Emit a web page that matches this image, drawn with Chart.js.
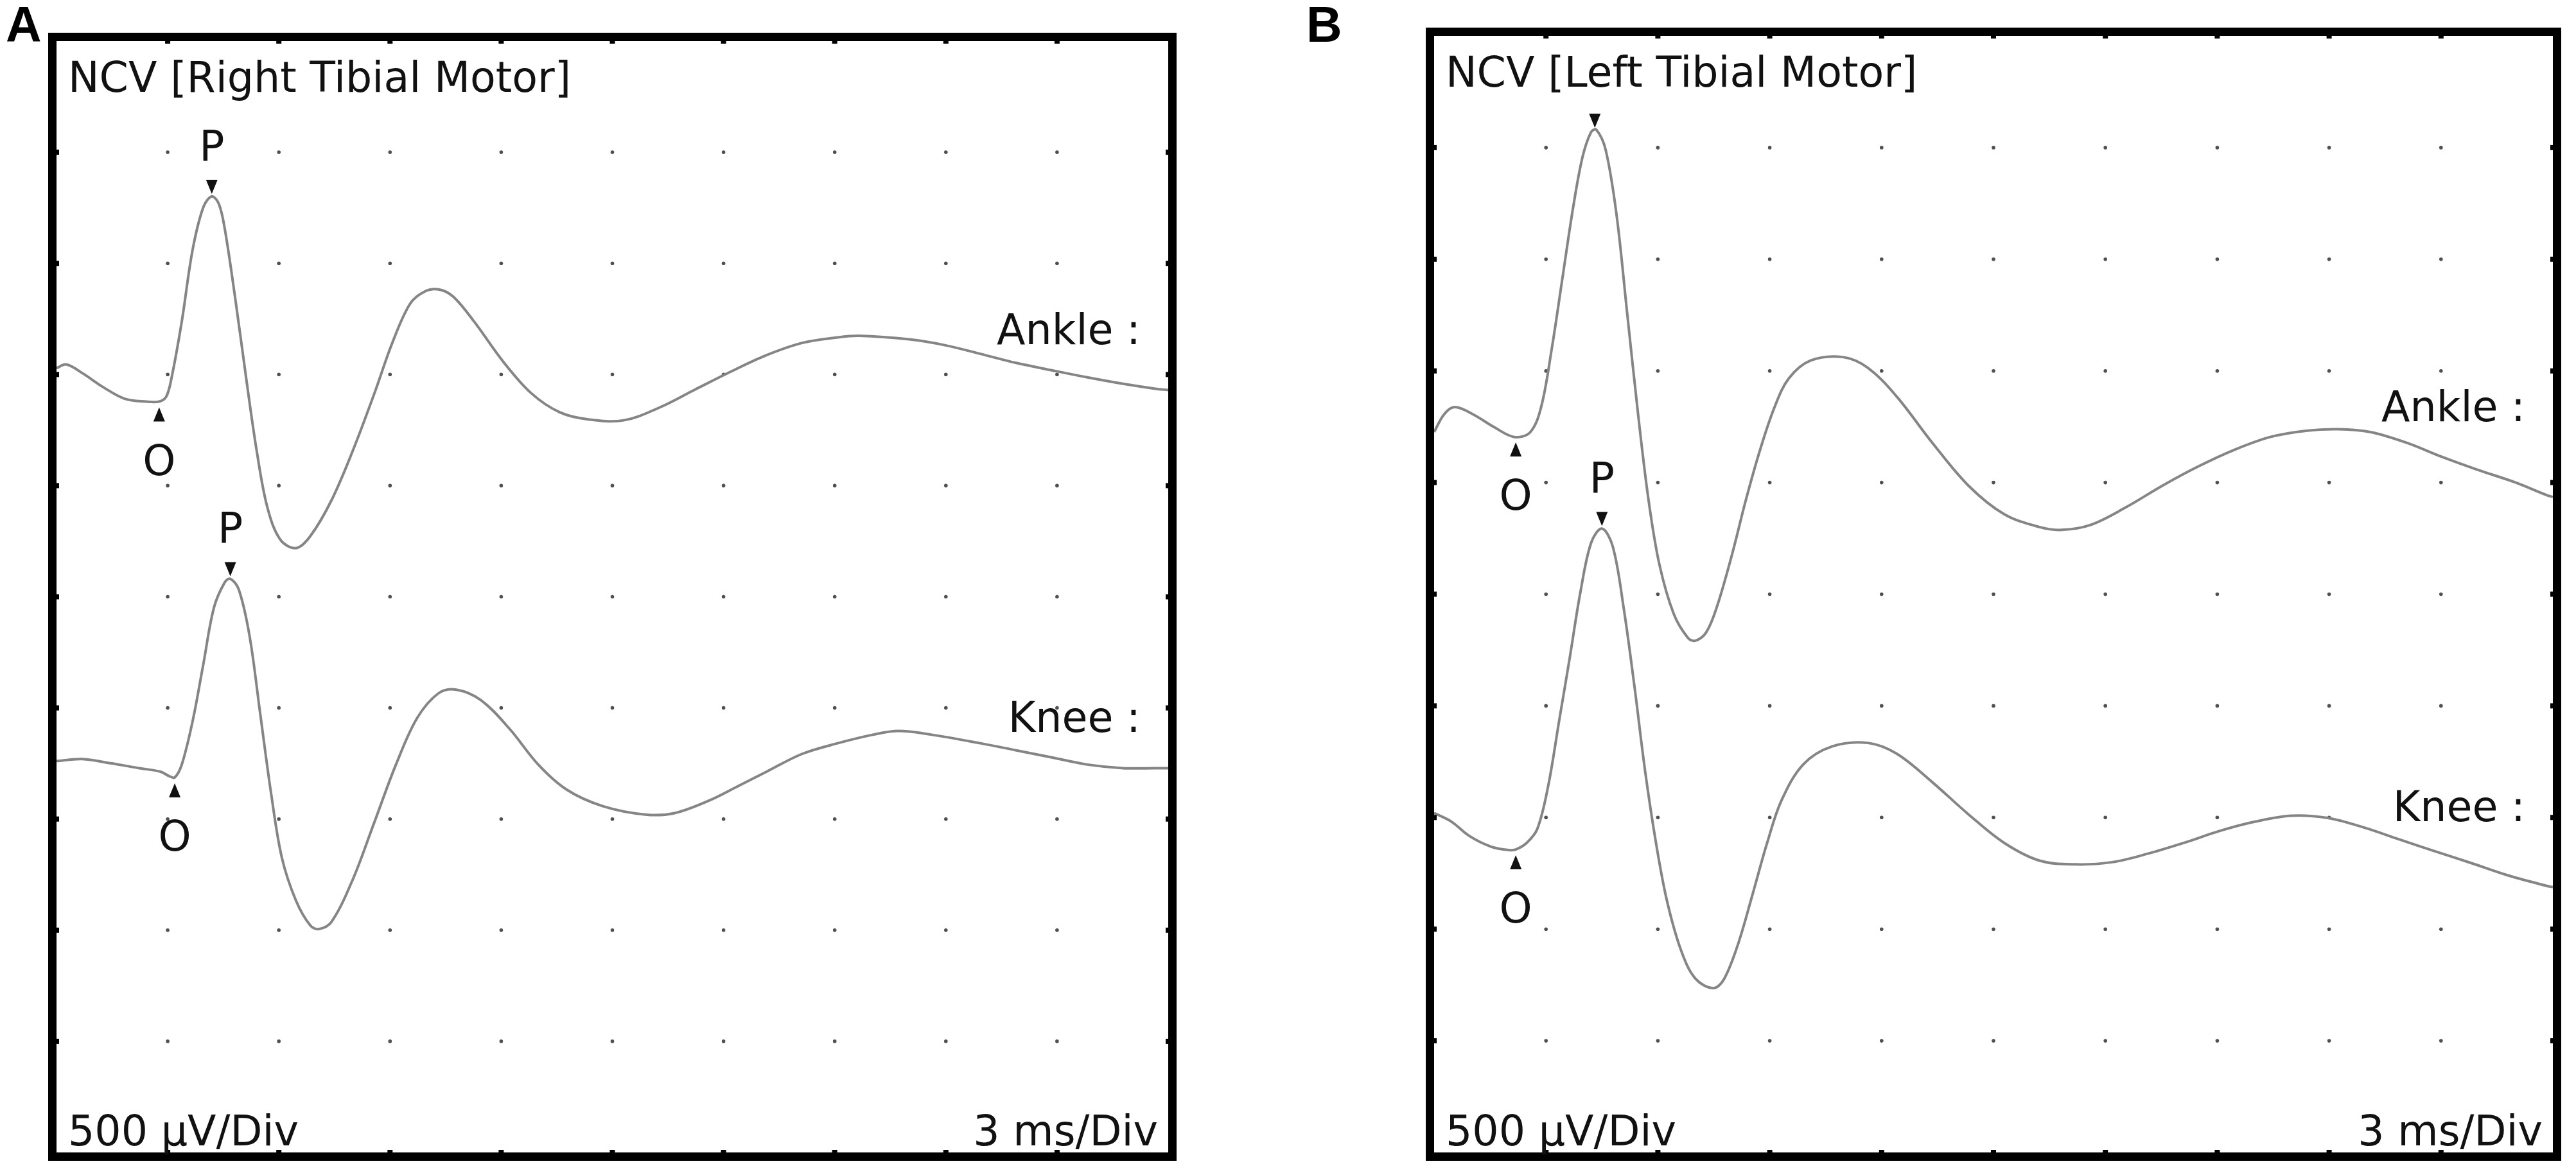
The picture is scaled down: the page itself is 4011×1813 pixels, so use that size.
<!DOCTYPE html>
<html>
<head>
<meta charset="utf-8">
<title>NCV Tibial Motor</title>
<script src="https://cdn.jsdelivr.net/npm/chart.js@4.4.1/dist/chart.umd.min.js"></script>
<style>
    html, body { margin: 0; padding: 0; background: #fff; width: 4011px; height: 1813px; overflow: hidden; }
    canvas { position: absolute; }
    .tag { position: absolute; font: bold 77px "Liberation Sans", Arial, sans-serif; line-height: 1; color: #000; }
</style>
</head>
<body>
<div class="tag" style="left:9px; top:0px;">A</div>
<div class="tag" style="left:2034px; top:0px;">B</div>
<canvas id="RightTibialChart" width="1771" height="1771" style="left:68px; top:44px;"></canvas>
<canvas id="LeftTibialChart" width="1782" height="1779" style="left:2213px; top:36px;"></canvas>
<script>
// screen divisions: 3 ms/Div across, 500 uV/Div down
var gridMs = [0, 3, 6, 9, 12, 15, 18, 21, 24, 27, 30];
var gridUv = [0, 500, 1000, 1500, 2000, 2500, 3000, 3500, 4000, 4500, 5000];

// Right tibial motor, ankle stimulation
var rightAnkleMs = [0, 0.27, 0.69, 1.27, 1.84, 2.42, 2.77, 2.96, 3.10, 3.38,
    3.67, 3.96, 4.19, 4.38, 4.54, 4.83, 5.12, 5.40, 5.69, 6.04,
    6.46, 6.85, 7.42, 8.00, 8.58, 9.06, 9.54, 9.93, 10.31, 10.70,
    11.27, 12.04, 12.81, 13.58, 14.35, 15.31, 16.28, 17.24, 18.20, 19.16,
    20.12, 21.08, 21.66, 23.01, 23.97, 24.93, 25.90, 26.86, 27.82, 28.78,
    29.65, 30];
var rightAnkleUv = [3529, 3545, 3507, 3442, 3391, 3378, 3378, 3400, 3481, 3738,
    4059, 4252, 4301, 4268, 4156, 3834, 3481, 3159, 2902, 2757,
    2719, 2773, 2934, 3159, 3416, 3642, 3818, 3873, 3883, 3851,
    3738, 3561, 3416, 3330, 3298, 3294, 3352, 3433, 3513, 3587,
    3642, 3667, 3674, 3658, 3632, 3593, 3552, 3519, 3487, 3458,
    3436, 3430];

// Right tibial motor, knee stimulation
var rightKneeMs = [0, 0.69, 1.46, 2.23, 2.81, 3.04, 3.19, 3.38, 3.67, 3.96,
    4.25, 4.54, 4.69, 4.92, 5.21, 5.50, 5.79, 6.08, 6.46, 6.85,
    7.08, 7.42, 8.00, 8.58, 9.16, 9.73, 10.31, 10.79, 11.46, 12.23,
    13.00, 13.77, 14.74, 15.89, 16.66, 17.62, 18.39, 19.16, 20.12, 21.08,
    22.05, 22.72, 23.59, 24.93, 25.90, 26.86, 27.82, 28.78, 29.65, 30];
var rightKneeUv = [1761, 1770, 1751, 1729, 1713, 1693, 1687, 1745, 1938, 2195,
    2452, 2565, 2581, 2532, 2323, 1970, 1616, 1327, 1134, 1021,
    1005, 1037, 1230, 1487, 1745, 1954, 2066, 2082, 2034, 1905,
    1745, 1632, 1558, 1520, 1526, 1584, 1648, 1713, 1793, 1841,
    1880, 1896, 1880, 1841, 1809, 1777, 1745, 1729, 1729, 1729];

// Left tibial motor, ankle stimulation
var leftAnkleMs = [0, 0.27, 0.55, 1.04, 1.61, 2.15, 2.58, 2.87, 3.15, 3.44,
    3.73, 3.98, 4.21, 4.35, 4.60, 4.89, 5.18, 5.47, 5.75, 6.04,
    6.43, 6.81, 7.01, 7.30, 7.58, 7.97, 8.36, 8.74, 9.13, 9.51,
    10.09, 10.96, 11.63, 12.40, 13.36, 14.33, 15.29, 16.25, 16.83, 17.60,
    18.56, 19.53, 20.49, 21.45, 22.42, 23.38, 24.25, 25.11, 26.08, 27.04,
    28.00, 28.97, 29.83, 30];
var leftAnkleUv = [3226, 3306, 3338, 3306, 3248, 3204, 3226, 3338, 3594, 3914,
    4234, 4458, 4570, 4580, 4490, 4202, 3754, 3306, 2922, 2634,
    2410, 2304, 2292, 2330, 2442, 2666, 2922, 3146, 3338, 3466,
    3546, 3562, 3514, 3386, 3178, 2986, 2858, 2800, 2788, 2810,
    2890, 2986, 3072, 3146, 3204, 3232, 3239, 3226, 3178, 3114,
    3056, 3002, 2944, 2935];

// Left tibial motor, knee stimulation
var leftKneeMs = [0, 0.46, 0.94, 1.52, 2.00, 2.19, 2.48, 2.77, 3.06, 3.35,
    3.64, 3.92, 4.21, 4.50, 4.79, 5.08, 5.37, 5.66, 5.95, 6.24,
    6.62, 7.01, 7.49, 7.78, 8.16, 8.55, 8.93, 9.32, 9.90, 10.67,
    11.63, 12.40, 13.36, 14.33, 15.29, 16.25, 17.22, 18.18, 19.14, 20.10,
    21.07, 22.03, 23.00, 23.96, 24.92, 25.88, 26.85, 27.81, 28.77, 29.83,
    30];
var leftKneeUv = [1520, 1482, 1418, 1370, 1354, 1357, 1386, 1450, 1642, 1930,
    2218, 2506, 2730, 2794, 2714, 2442, 2090, 1706, 1386, 1130,
    906, 778, 736, 778, 938, 1162, 1386, 1578, 1738, 1818,
    1834, 1786, 1658, 1514, 1386, 1306, 1290, 1300, 1338, 1386,
    1440, 1482, 1508, 1498, 1456, 1402, 1348, 1296, 1242, 1194,
    1188];

// onset (O) and peak (P) latencies, ms
var rightAnkleOP = [2.77, 4.19];
var rightKneeOP = [3.19, 4.69];
var leftAnkleOP = [2.19, 4.31];
var leftKneeOP = [2.19, 4.50];

var TEXT_FONT = '65px "DejaVu Sans", Verdana, sans-serif';

function toPoints(ms, uv) {
    return ms.map(function (t, i) {
        return { x: t, y: uv[i] };
    });
}

// value of a trace at time t (linear between samples)
function traceValue(points, t) {
    for (var i = 1; i < points.length; i++) {
        if (points[i].x >= t) {
            var a = points[i - 1], b = points[i];
            return a.y + (b.y - a.y) * (t - a.x) / (b.x - a.x);
        }
    }
    return points[points.length - 1].y;
}

function drawArrow(ctx, px, tipY, down) {
    var w = 9, h = 22;
    var baseY = down ? tipY - h : tipY + h;
    ctx.beginPath();
    ctx.moveTo(px - w, baseY);
    ctx.lineTo(px + w, baseY);
    ctx.lineTo(px, tipY);
    ctx.closePath();
    ctx.fill();
}

var screenPlugin = {
    id: 'ncvScreen',
    beforeDatasetsDraw: function (chart) {
        var ctx = chart.ctx, xs = chart.scales.x, ys = chart.scales.y;
        ctx.save();
        ctx.fillStyle = '#505050';
        gridMs.slice(1, -1).forEach(function (t) {
            gridUv.slice(1, -1).forEach(function (v) {
                ctx.beginPath();
                ctx.arc(xs.getPixelForValue(t), ys.getPixelForValue(v), 2.8, 0, 2 * Math.PI);
                ctx.fill();
            });
        });
        ctx.restore();
    },
    afterDatasetsDraw: function (chart, args, opts) {
        var ctx = chart.ctx, a = chart.chartArea;
        var xs = chart.scales.x, ys = chart.scales.y;
        ctx.save();

        // frame with division notches
        ctx.strokeStyle = '#000';
        ctx.lineWidth = 13;
        ctx.strokeRect(a.left - 6.5, a.top - 6.5, a.width + 13, a.height + 13);
        ctx.fillStyle = '#000';
        gridMs.slice(1, -1).forEach(function (t) {
            var px = xs.getPixelForValue(t);
            ctx.fillRect(px - 4, a.top, 8, 4);
            ctx.fillRect(px - 4, a.bottom - 4, 8, 4);
        });
        gridUv.slice(1, -1).forEach(function (v) {
            var py = ys.getPixelForValue(v);
            ctx.fillRect(a.left, py - 4, 4, 8);
            ctx.fillRect(a.right - 4, py - 4, 4, 8);
        });

        // screen texts
        ctx.fillStyle = '#111';
        ctx.font = TEXT_FONT;
        ctx.textBaseline = 'alphabetic';
        ctx.textAlign = 'left';
        ctx.fillText(opts.title, a.left + 18, a.top + 79);
        ctx.fillText('500 \u00b5V/Div', a.left + 18, a.bottom - 11);
        ctx.textAlign = 'right';
        ctx.fillText('3 ms/Div', a.right - 16, a.bottom - 11);
        opts.labels.forEach(function (l) {
            ctx.fillText(l.text, a.right - 43, ys.getPixelForValue(l.uv));
        });

        // O / P markers
        ctx.textAlign = 'center';
        opts.marks.forEach(function (m) {
            var pts = chart.data.datasets[m.ds].data;
            var px = xs.getPixelForValue(m.t);
            var py = ys.getPixelForValue(traceValue(pts, m.t));
            if (m.kind === 'P') {
                var tipP = py - 4;
                drawArrow(ctx, px, tipP, true);
                if (m.label) ctx.fillText('P', px, tipP - 52);
            } else {
                var tipO = py + 9;
                drawArrow(ctx, px, tipO, false);
                if (m.label) ctx.fillText('O', px, tipO + 105);
            }
        });
        ctx.restore();
    }
};

function traceDataset(ms, uv) {
    return {
        data: toPoints(ms, uv),
        borderColor: '#858585',
        borderWidth: 4,
        pointRadius: 0,
        fill: false,
        tension: 0.35
    };
}

function setupPanel(canvasId, title, ankleMs, ankleUv, kneeMs, kneeUv, ankleOP, kneeOP, labelUv, ankleShowP) {
    var context = document.getElementById(canvasId).getContext('2d');
    return new Chart(context, {
        type: 'line',
        data: {
            datasets: [traceDataset(ankleMs, ankleUv), traceDataset(kneeMs, kneeUv)]
        },
        options: {
            responsive: false,
            animation: false,
            devicePixelRatio: 1,
            events: [],
            layout: { padding: 20 },
            scales: {
                x: { type: 'linear', min: gridMs[0], max: gridMs[gridMs.length - 1], display: false },
                y: { type: 'linear', min: gridUv[0], max: gridUv[gridUv.length - 1], display: false }
            },
            plugins: {
                legend: { display: false },
                tooltip: { enabled: false },
                ncvScreen: {
                    title: title,
                    labels: [
                        { text: 'Ankle :', uv: labelUv[0] },
                        { text: 'Knee :', uv: labelUv[1] }
                    ],
                    marks: [
                        { ds: 0, t: ankleOP[0], kind: 'O', label: true },
                        { ds: 0, t: ankleOP[1], kind: 'P', label: ankleShowP },
                        { ds: 1, t: kneeOP[0], kind: 'O', label: true },
                        { ds: 1, t: kneeOP[1], kind: 'P', label: true }
                    ]
                }
            }
        },
        plugins: [screenPlugin]
    });
}

setupPanel('RightTibialChart', 'NCV [Right Tibial Motor]',
    rightAnkleMs, rightAnkleUv, rightKneeMs, rightKneeUv,
    rightAnkleOP, rightKneeOP, [3637, 1892], true);
setupPanel('LeftTibialChart', 'NCV [Left Tibial Motor]',
    leftAnkleMs, leftAnkleUv, leftKneeMs, leftKneeUv,
    leftAnkleOP, leftKneeOP, [3275, 1484], false);
</script>
</body>
</html>
